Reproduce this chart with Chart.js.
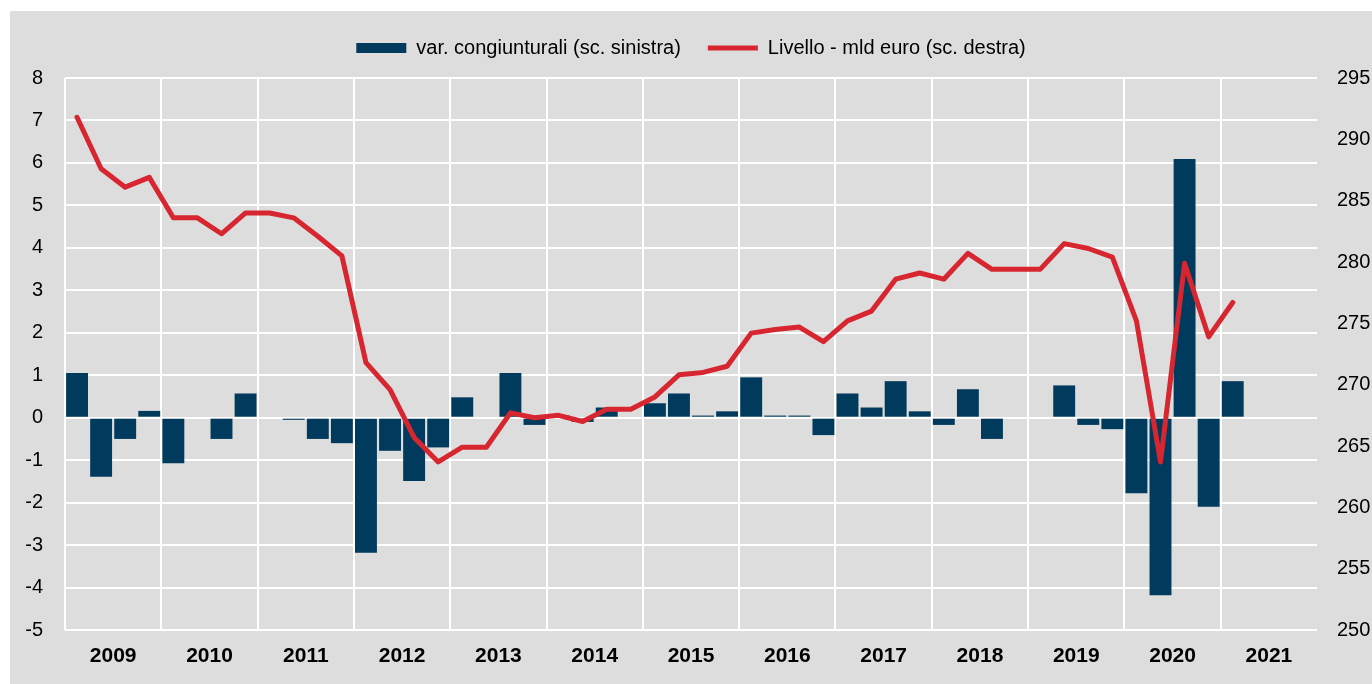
<!DOCTYPE html>
<html>
<head>
<meta charset="utf-8">
<script src="https://cdn.jsdelivr.net/npm/chart.js@4.4.1/dist/chart.umd.min.js"></script>
<style>
  html, body { margin: 0; padding: 0; background: #ffffff; }
  #wrap { position: absolute; left: 10px; top: 11px; width: 1362px; height: 673px; }
  #grafico { background: #dddddd; }
</style>
</head>
<body>
<div id="wrap"><canvas id="grafico" width="1362" height="673"></canvas></div>
<script>
// anni sull'asse x (4 trimestri ciascuno)
const anni = ['2009', '2010', '2011', '2012', '2013', '2014', '2015', '2016', '2017', '2018', '2019', '2020', '2021'];
const trimestri = ['I', 'II', 'III', 'IV'];

// variazioni congiunturali % (scala sinistra), dal I trim. 2009 al I trim. 2021
const varCongiunturali = [
  1.05, -1.39, -0.50, 0.16,
  -1.07, 0, -0.50, 0.57,
  0, -0.05, -0.50, -0.60,
  -3.18, -0.78, -1.49, -0.70,
  0.48, 0, 1.05, -0.17,
  0.05, -0.10, 0.24, 0,
  0.34, 0.57, 0.05, 0.15,
  0.95, 0.05, 0.05, -0.41,
  0.57, 0.24, 0.86, 0.15,
  -0.17, 0.67, -0.50, 0,
  0, 0.76, -0.17, -0.27,
  -1.78, -4.18, 6.09, -2.10,
  0.86
];

// livello in miliardi di euro (scala destra)
const livello = [
  291.8, 287.6, 286.1, 286.9,
  283.6, 283.6, 282.3, 284.0,
  284.0, 283.6, 282.1, 280.5,
  271.8, 269.6, 265.7, 263.7,
  264.9, 264.9, 267.7, 267.3,
  267.5, 267.0, 268.0, 268.0,
  269.0, 270.8, 271.0, 271.5,
  274.2, 274.5, 274.7, 273.5,
  275.2, 276.0, 278.6, 279.1,
  278.6, 280.7, 279.4, 279.4,
  279.4, 281.5, 281.1, 280.4,
  275.2, 263.7, 279.9, 273.9,
  276.7
];

const etichette = anni.flatMap(a => trimestri.map(t => t + ' ' + a));

const fontBase = "'Liberation Sans', Arial, sans-serif";
const blu = '#003a5c';
const rosso = '#d7262f';

// spazio extra sotto la legenda
const spazioLegenda = {
  id: 'spazioLegenda',
  beforeLayout(chart) {
    if (chart.legend && !chart.legend._patched) {
      const fitOrig = chart.legend.fit;
      chart.legend.fit = function () {
        fitOrig.call(this);
        this.height += 10;
      };
      chart.legend._patched = true;
    }
  }
};

new Chart(document.getElementById('grafico'), {
  type: 'bar',
  data: {
    labels: etichette,
    datasets: [
      {
        type: 'bar',
        label: 'var. congiunturali (sc. sinistra)',
        data: varCongiunturali,
        backgroundColor: blu,
        borderWidth: 0,
        barPercentage: 0.91,
        categoryPercentage: 1,
        yAxisID: 'y',
        pointStyle: 'rect',
        order: 1
      },
      {
        type: 'line',
        label: 'Livello - mld euro (sc. destra)',
        data: livello,
        borderColor: rosso,
        backgroundColor: rosso,
        borderWidth: 5,
        borderCapStyle: 'round',
        borderJoinStyle: 'round',
        pointRadius: 0,
        tension: 0,
        yAxisID: 'y1',
        pointStyle: 'line',
        order: 0
      }
    ]
  },
  options: {
    responsive: false,
    animation: false,
    layout: { padding: 0 },
    plugins: {
      legend: {
        position: 'top',
        labels: {
          usePointStyle: true,
          pointStyleWidth: 50,
          boxHeight: 10,
          padding: 27,
          color: '#000000',
          font: { family: fontBase, size: 20 },
          sort: (a, b) => a.datasetIndex - b.datasetIndex
        }
      },
      tooltip: { enabled: false }
    },
    scales: {
      x: {
        offset: true,
        grid: {
          offset: true,
          drawTicks: false,
          lineWidth: 2,
          color: ctx => (ctx.index % 4 === 0 ? '#ffffff' : 'rgba(0,0,0,0)')
        },
        border: { display: false },
        ticks: {
          autoSkip: false,
          maxRotation: 0,
          minRotation: 0,
          padding: 14,
          labelOffset: -12,
          color: '#000000',
          font: { family: fontBase, size: 21, weight: 'bold' },
          callback: (v, i) => (i % 4 === 2 ? anni[Math.floor(i / 4)] : '')
        },
        afterFit(scale) { scale.height = 54; }
      },
      y: {
        position: 'left',
        min: -5,
        max: 8,
        grid: { color: '#ffffff', lineWidth: 2, drawTicks: false },
        border: { display: false },
        ticks: {
          stepSize: 1,
          padding: 22,
          color: '#000000',
          font: { family: fontBase, size: 20 }
        },
        afterFit(scale) { scale.width = 55; }
      },
      y1: {
        position: 'right',
        min: 250,
        max: 295,
        grid: { display: false, drawTicks: false },
        border: { display: false },
        ticks: {
          stepSize: 5,
          padding: 20,
          color: '#000000',
          font: { family: fontBase, size: 20 }
        },
        afterFit(scale) { scale.width = 55; }
      }
    }
  },
  plugins: [spazioLegenda]
});
</script>
</body>
</html>
